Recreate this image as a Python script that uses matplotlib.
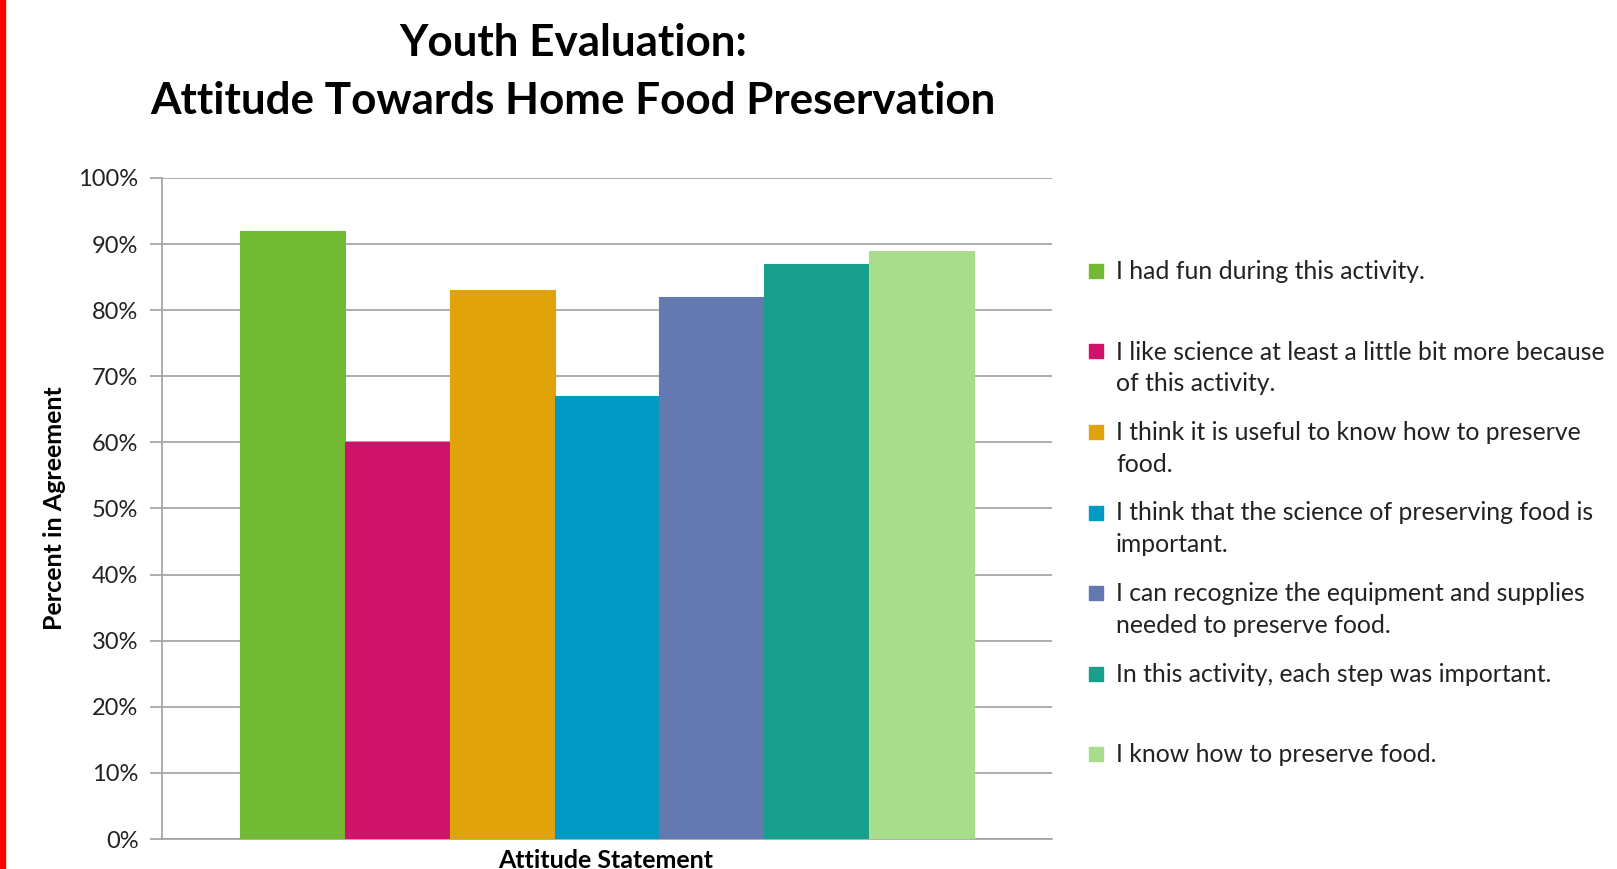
import matplotlib
matplotlib.use("Agg")
import matplotlib.pyplot as plt
from matplotlib.patches import Rectangle
from matplotlib.ticker import PercentFormatter

statements = [
    "I had fun during this activity.",
    "I like science at least a little bit more because\nof this activity.",
    "I think it is useful to know how to preserve\nfood.",
    "I think that the science of preserving food is\nimportant.",
    "I can recognize the equipment and supplies\nneeded to preserve food.",
    "In this activity, each step was important.",
    "I know how to preserve food.",
]
agreement = [92, 60, 83, 67, 82, 87, 89]
colors = ["#72B934", "#D0126B", "#E1A30A", "#009AC4", "#6479B0", "#179E8C", "#A8DD8C"]
yticks = [0, 10, 20, 30, 40, 50, 60, 70, 80, 90, 100]

plt.rcParams['font.family'] = ['Lato', 'DejaVu Sans']

fig = plt.figure(figsize=(16.17, 8.69), dpi=100)
ax = fig.add_axes([0.1002, 0.0345, 0.5504, 0.7607])

# one group of bars, touching each other
for i, (val, col) in enumerate(zip(agreement, colors)):
    ax.bar(i, val, width=1.0, color=col, edgecolor=col, linewidth=0.8, zorder=3)

ax.set_xlim(-0.5 - 0.743, len(agreement) - 0.5 + 0.743)
ax.set_ylim(0, 100)
ax.set_yticks(yticks)
ax.yaxis.set_major_formatter(PercentFormatter(decimals=0))
ax.set_xticks([])
ax.grid(axis='y', color='#A0A0A0', linewidth=1.2, zorder=0)

for s in ['top', 'right']:
    ax.spines[s].set_visible(False)
ax.spines['left'].set_color('#A0A0A0')
ax.spines['bottom'].set_color('#A0A0A0')
ax.spines['left'].set_linewidth(1.2)
ax.spines['bottom'].set_linewidth(1.2)
ax.tick_params(axis='y', length=9, width=1.2, color='#A0A0A0', labelsize=17,
               labelcolor='#222222', pad=8)

fig.text(54 / 1617, 1 - 508 / 869, "Percent in Agreement", fontsize=18, fontweight='bold',
         rotation=90, ha='center', va='center')
fig.text(0.3748, 1 - 860 / 869, "Attitude Statement", fontsize=18, fontweight='bold',
         ha='center', va='center')

fig.text(0.3544, 1 - 43 / 869, "Youth Evaluation:", fontsize=31.7, fontweight='bold',
         ha='center', va='center')
fig.text(0.3544, 1 - 101 / 869, "Attitude Towards Home Food Preservation", fontsize=31.7,
         fontweight='bold', ha='center', va='center')

# legend drawn by hand so markers sit on the first line
W, H = 1617, 869
for i, (lab, col) in enumerate(zip(statements, colors)):
    y = 271 + i * 80.5
    fig.patches.append(Rectangle(((1095 - 6) / W, 1 - (y + 7) / H), 14 / W, 14 / H,
                                 transform=fig.transFigure, color=col))
    fig.text(1116 / W, 1 - (y - 11) / H, lab, fontsize=17.8, ha='left', va='top',
             color='#222222', linespacing=1.45)

# red bar along left edge
fig.patches.append(Rectangle((0, 0), 5 / W, 1, transform=fig.transFigure, color='#FF0000'))

fig.savefig("out.png", dpi=100)
